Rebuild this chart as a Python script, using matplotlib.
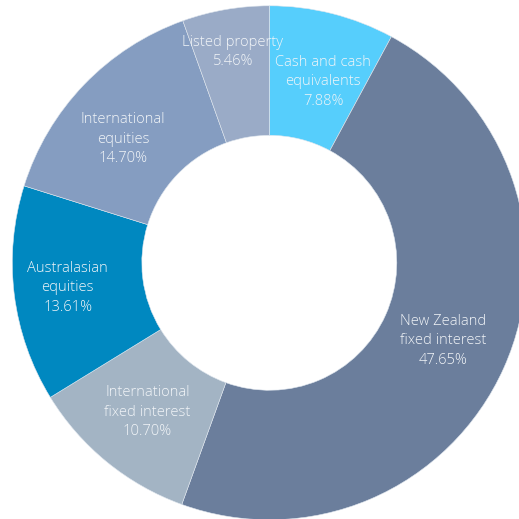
import numpy as np
import matplotlib.pyplot as plt

labels = ['Cash and cash\nequivalents', 'New Zealand\nfixed interest',
          'International\nfixed interest', 'Australasian\nequities',
          'International\nequities', 'Listed property']
values = [7.88, 47.65, 10.70, 13.61, 14.70, 5.46]
colors = ['#56CEFC', '#6B7E9C', '#A3B4C4', '#0088C0', '#859DC1', '#9AABC7']
# label placement: radius and small angle nudge per slice
label_r = [0.735, 0.743, 0.75, 0.79, 0.745, 0.833]
label_da = [-2.4, 0, 0, 0, 3.6, 0]

plt.rcParams['font.family'] = ['Open Sans', 'DejaVu Sans']

fig = plt.figure(figsize=(5.19, 5.19), dpi=100)
ax = fig.add_axes([12.3/519, -0.8/519, 514/519, 514/519])

wedges, _ = ax.pie(values, colors=colors, startangle=90, counterclock=False,
                   radius=1, wedgeprops=dict(width=0.504, edgecolor='#dfe6ee', linewidth=0.4))

for w, lab, v, r, da in zip(wedges, labels, values, label_r, label_da):
    ang = np.deg2rad((w.theta1 + w.theta2) / 2 + da)
    x = r * np.cos(ang)
    y = r * np.sin(ang)
    ax.text(x, y, f'{lab}\n{v:.2f}%', ha='center', va='center',
            color='#F2F5F8', fontsize=10.6, linespacing=1.4, fontweight='light')

ax.set_xlim(-1, 1)
ax.set_ylim(-1, 1)
ax.set_aspect('equal')
ax.axis('off')

fig.savefig('out.png', dpi=100)
